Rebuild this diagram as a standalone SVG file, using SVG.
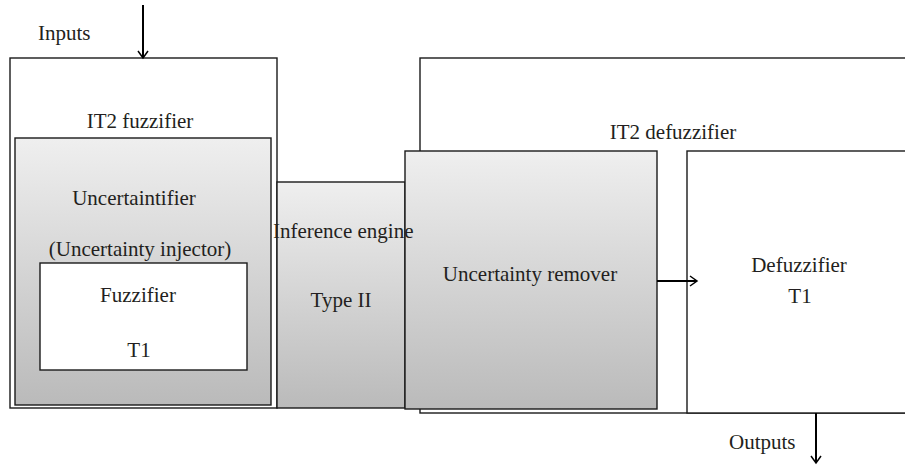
<svg xmlns="http://www.w3.org/2000/svg" width="905" height="466" viewBox="0 0 905 466">
<defs>
<linearGradient id="g" x1="0" y1="0" x2="0" y2="1">
<stop offset="0" stop-color="#efefef"/>
<stop offset="1" stop-color="#bababa"/>
</linearGradient>
<marker id="ah" markerWidth="12" markerHeight="12" refX="10" refY="6" orient="auto" markerUnits="userSpaceOnUse">
<path d="M3,1 L10,6 L3,11" fill="none" stroke="#000" stroke-width="1.5"/>
</marker>
<style>
.w{fill:#fff;stroke:#1a1a1a;stroke-width:1.4}
.gr{fill:url(#g);stroke:#1a1a1a;stroke-width:1.4}
text{font-family:"Liberation Serif","Times New Roman",serif;font-size:21px;fill:#231f20}
.c{text-anchor:middle}
.ar{stroke:#000;stroke-width:2;fill:none;marker-end:url(#ah)}
</style>
</defs>
<rect width="905" height="466" fill="#fff"/>
<g id="it2-fuzzifier">
<rect class="w" x="10" y="58" width="267" height="350"/>
<text class="c" x="140" y="128">IT2 fuzzifier</text>
</g>
<g id="uncertaintifier">
<rect class="gr" x="15" y="138" width="256" height="267"/>
<text class="c" x="134" y="205">Uncertaintifier</text>
<text class="c" x="140" y="256">(Uncertainty injector)</text>
</g>
<g id="fuzzifier">
<rect class="w" x="40" y="263" width="207" height="107"/>
<text class="c" x="138" y="302">Fuzzifier</text>
<text class="c" x="139" y="357">T1</text>
</g>
<g id="it2-defuzzifier">
<rect class="w" x="420" y="58" width="500" height="355"/>
<text class="c" x="673" y="139">IT2 defuzzifier</text>
</g>
<g id="inference-engine">
<rect class="gr" x="277" y="182" width="128" height="226"/>
</g>
<g id="uncertainty-remover">
<rect class="gr" x="405" y="151" width="252" height="258"/>
<text class="c" x="530" y="281">Uncertainty remover</text>
</g>
<g id="inference-engine-labels">
<text x="273" y="238">Inference engine</text>
<text class="c" x="341" y="307">Type II</text>
</g>
<g id="defuzzifier">
<rect class="w" x="687" y="151" width="240" height="262"/>
<text class="c" x="799" y="272">Defuzzifier</text>
<text class="c" x="800" y="303">T1</text>
</g>
<g id="labels">
<text x="38" y="40">Inputs</text>
<text x="729" y="449">Outputs</text>
</g>
<g id="connectors">
<line class="ar" x1="143" y1="5" x2="143" y2="58"/>
<line class="ar" x1="657" y1="281" x2="697" y2="281"/>
<line class="ar" x1="816" y1="413" x2="816" y2="463"/>
</g>
</svg>
